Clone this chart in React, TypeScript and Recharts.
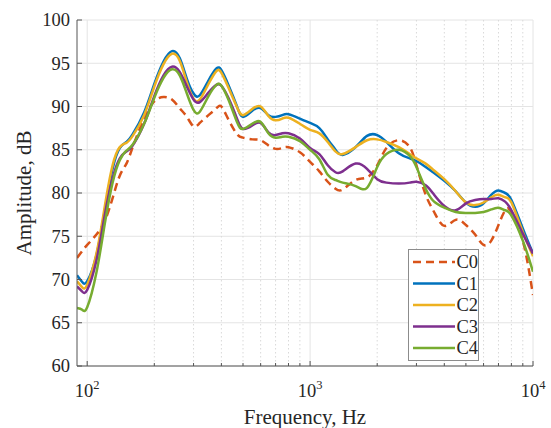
import { LineChart, Line, XAxis, YAxis, CartesianGrid, Legend, Label } from 'recharts';

// Frequenze (Hz) e ampiezze (dB)
const freqs = [
  90, 95, 100, 110, 120, 130, 140, 150, 160, 180, 200, 220, 240, 260, 280, 300, 320, 350, 380, 400,
  430, 470, 500, 550, 600, 650, 700, 750, 800, 900, 1000, 1100, 1200, 1300, 1400, 1600, 1800, 2000,
  2200, 2500, 2800, 3000, 3300, 3600, 4000, 4500, 5000, 5500, 6000, 6500, 7000, 7500, 8000, 9000, 10000,
];

const c0 = [
  72.5, 73.3, 74.0, 75.2, 76.8, 79.4, 82.0, 83.4, 85.3, 88.6, 90.6, 91.1, 90.8, 89.8, 88.8, 87.7, 88.1, 89.0, 89.8, 90.0,
  88.5, 86.8, 86.4, 86.2, 86.1, 85.5, 85.1, 85.2, 85.3, 84.7, 83.6, 82.5, 81.3, 80.5, 80.4, 81.5, 81.8, 83.2,
  85.2, 86.1, 85.3, 83.2, 79.8, 77.8, 76.2, 76.9, 76.3, 75.2, 74.0, 74.5, 76.3, 78.0, 77.8, 74.5, 68.2,
];

const c1 = [
  70.5, 69.7, 69.8, 72.8, 78.0, 82.8, 85.2, 85.9, 86.8, 89.3, 92.6, 95.2, 96.4, 95.6, 93.2, 91.5, 91.3, 93.0, 94.4, 94.2,
  92.5, 90.0, 88.8, 89.5, 89.8, 89.0, 88.8, 89.0, 89.1, 88.6, 88.1, 87.5, 86.2, 85.0, 84.4, 85.3, 86.6, 86.7,
  85.9, 84.6, 84.0, 83.7, 83.0, 82.3, 81.4, 80.2, 78.9, 78.4, 78.8, 79.8, 80.3, 80.0, 79.2, 75.9, 73.0,
];

const c2 = [
  69.8, 69.1, 69.4, 73.0, 78.5, 83.2, 85.3, 85.8, 86.6, 89.0, 92.3, 94.9, 96.1, 95.3, 92.8, 90.9, 90.8, 92.6, 94.1, 93.9,
  92.2, 89.9, 89.0, 89.7, 90.0, 88.9, 88.4, 88.6, 88.7, 88.0, 87.3, 86.9, 85.9, 84.8, 84.5, 85.3, 86.1, 86.2,
  85.9, 85.3, 84.5, 84.0, 83.4, 82.6, 81.6, 80.2, 78.9, 78.6, 78.9, 79.5, 79.8, 79.5, 78.9, 75.5, 72.7,
];

const c3 = [
  69.2, 68.6, 68.8, 72.2, 77.5, 81.7, 84.0, 84.8, 85.5, 88.0, 91.2, 93.6, 94.6, 94.0, 92.3, 90.8, 90.5, 91.6, 92.5, 92.4,
  91.0, 88.6, 87.4, 87.8, 88.1, 87.0, 86.7, 86.9, 86.9, 86.3, 85.2, 84.5, 83.2, 82.4, 82.5, 83.4, 82.8, 81.6,
  81.2, 81.1, 81.2, 81.3, 80.9, 79.8, 78.5, 78.0, 78.8, 79.2, 79.3, 79.3, 79.4, 79.0, 78.0, 75.3, 73.0,
];

const c4 = [
  66.7, 66.5, 66.8, 70.8, 76.5, 81.2, 83.8, 84.9, 85.6, 88.0, 91.0, 93.3, 94.3, 93.6, 91.5, 89.6, 89.4, 91.2, 92.5, 92.4,
  90.8, 88.2, 87.4, 88.0, 88.2, 86.9, 86.4, 86.5, 86.5, 86.0, 85.0, 83.9, 82.1, 81.5, 81.2, 80.8, 80.6, 83.0,
  84.5, 85.0, 84.3, 83.0, 80.5, 79.0, 78.3, 77.8, 77.7, 77.7, 77.8, 78.1, 78.3, 78.0, 77.4, 74.5, 70.9,
];

const majorFreqs = [100, 1000, 10000];
const minorFreqs = [200, 300, 400, 500, 600, 700, 800, 900, 2000, 3000, 4000, 5000, 6000, 7000, 8000, 9000];
const yTicks = [60, 65, 70, 75, 80, 85, 90, 95, 100];
const xDomain = [90, 10000];

const series = [
  { key: 'C0', values: c0, color: '#D95319', dash: '8 5' },
  { key: 'C1', values: c1, color: '#0072BD', dash: undefined },
  { key: 'C2', values: c2, color: '#EDB120', dash: undefined },
  { key: 'C3', values: c3, color: '#7E2F8E', dash: undefined },
  { key: 'C4', values: c4, color: '#77AC30', dash: undefined },
];

const data = freqs.map((f, i) => {
  const row: Record<string, number> = { f };
  series.forEach(s => { row[s.key] = s.values[i]; });
  return row;
});

const FONT = '"Liberation Serif", "Times New Roman", serif';
const TEXT = '#262626';
const AXIS = '#555';

// posizione in pixel di una frequenza: usa la scala dell'asse se disponibile
const xToPx = (xAxis: any, offset: any, v: number) => {
  const s = xAxis?.scale;
  if (typeof s === 'function') return s(v);
  if (s && typeof s.map === 'function') return s.map(v);
  const [a, b] = xDomain;
  return offset.left + (offset.width * Math.log(v / a)) / Math.log(b / a);
};

// Tick X: esponente in apice, tacche verso l'interno
const XTick = (props: any) => {
  const { x, y, payload } = props;
  const major = majorFreqs.includes(payload.value);
  const exp = Math.round(Math.log10(payload.value));
  return (
    <g>
      <line x1={x} x2={x} y1={y} y2={y - (major ? 5 : 3)} stroke={AXIS} strokeWidth={1} />
      {major && (
        <text x={x} y={y + 31} textAnchor="middle" fontSize={18.5} fill={TEXT} fontFamily={FONT}>
          <tspan>10</tspan>
          <tspan dy={-8} fontSize={12.5}>{exp}</tspan>
        </text>
      )}
    </g>
  );
};

const YTick = (props: any) => {
  const { x, y, payload } = props;
  return (
    <g>
      <line x1={x + 7} x2={x + 12} y1={y} y2={y} stroke={AXIS} strokeWidth={1} />
      <text x={x} y={y} dy="0.35em" textAnchor="end" fontSize={18.5} fill={TEXT} fontFamily={FONT}>
        {payload.value}
      </text>
    </g>
  );
};

const LegendBox = () => (
  <div style={{ width: 71, height: 112, border: '1px solid #8c8c8c', background: '#fff', boxSizing: 'border-box' }}>
    <svg width={69} height={110} style={{ display: 'block' }}>
      {series.map((s, i) => {
        const cy = 12 + i * 21.5;
        return (
          <g key={s.key}>
            <line x1={4} x2={46} y1={cy} y2={cy} stroke={s.color} strokeWidth={2.5} strokeDasharray={s.dash} />
            <text x={47.5} y={cy} dy="0.35em" fontSize={18.5} fill={TEXT} fontFamily={FONT}>{s.key}</text>
          </g>
        );
      })}
    </svg>
  </div>
);

export default function App() {
  return (
    <div style={{ position: 'absolute', left: 0, top: 0, width: 551, height: 428, background: '#fff' }}>
      <LineChart
        width={551}
        height={428}
        data={data}
        margin={{ top: 20, right: 18, bottom: 0, left: 17 }}
        style={{ fontFamily: FONT }}
      >
        {/* griglia principale */}
        <CartesianGrid
          stroke="#e4e4e4"
          strokeWidth={1}
          horizontalValues={yTicks}
          verticalCoordinatesGenerator={({ xAxis, offset }: any) => majorFreqs.map(v => xToPx(xAxis, offset, v))}
        />
        {/* griglia secondaria (log) tratteggiata */}
        <CartesianGrid
          stroke="#d9d9d9"
          strokeWidth={1}
          strokeDasharray="1.5 2.5"
          horizontal={false}
          verticalCoordinatesGenerator={({ xAxis, offset }: any) => minorFreqs.map(v => xToPx(xAxis, offset, v))}
        />
        <XAxis
          dataKey="f"
          type="number"
          scale="log"
          domain={xDomain}
          allowDataOverflow
          ticks={[...majorFreqs, ...minorFreqs]}
          interval={0}
          tickLine={false}
          tickSize={0}
          tickMargin={0}
          tick={<XTick />}
          height={62}
          axisLine={{ stroke: AXIS, strokeWidth: 1 }}
        >
          <Label
            content={({ viewBox }: any) => (
              <text
                x={viewBox.x + viewBox.width / 2}
                y={viewBox.y + 58}
                textAnchor="middle"
                fontSize={21}
                fill={TEXT}
                fontFamily={FONT}
              >
                Frequency, Hz
              </text>
            )}
          />
        </XAxis>
        <YAxis
          type="number"
          domain={[60, 100]}
          ticks={yTicks}
          interval={0}
          width={60}
          tickLine={false}
          tickSize={0}
          tickMargin={7}
          tick={<YTick />}
          axisLine={{ stroke: AXIS, strokeWidth: 1 }}
        >
          <Label
            content={({ viewBox }: any) => {
              const cx = 24;
              const cy = viewBox.y + viewBox.height / 2;
              return (
                <text
                  x={cx}
                  y={cy}
                  dy="0.35em"
                  textAnchor="middle"
                  fontSize={21}
                  fill={TEXT}
                  fontFamily={FONT}
                  transform={`rotate(-90, ${cx}, ${cy})`}
                >
                  Amplitude, dB
                </text>
              );
            }}
          />
        </YAxis>
        <Legend
          layout="vertical"
          align="center"
          verticalAlign="middle"
          content={<LegendBox />}
          wrapperStyle={{ position: 'absolute', left: 408, top: 249, right: 'auto', bottom: 'auto', width: 71, height: 112 }}
        />
        {series.map(s => (
          <Line
            key={s.key}
            dataKey={s.key}
            type="natural"
            stroke={s.color}
            strokeWidth={2.5}
            strokeDasharray={s.dash}
            dot={false}
            activeDot={false}
            isAnimationActive={false}
          />
        ))}
      </LineChart>
    </div>
  );
}
